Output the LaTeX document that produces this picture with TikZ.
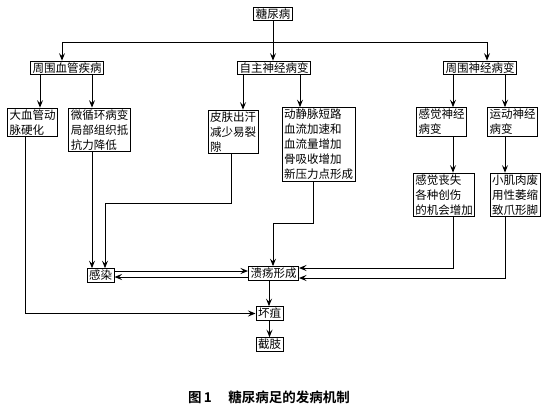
\documentclass[tikz,border=0pt]{standalone}
\usepackage{fontspec}
\setmainfont{Noto Sans CJK SC}[BoldFont={Noto Sans CJK SC Bold}]
\usetikzlibrary{arrows.meta}

\begin{document}
\begin{tikzpicture}[x=1pt, y=-1pt, line width=1pt, >={Stealth[length=7.5pt,width=6pt,inset=2.8pt]},
  every node/.style={draw, inner xsep=2pt, inner ysep=1.5pt, align=left, font=\fontsize{11.5pt}{15pt}\selectfont}]

\useasboundingbox (0,0) rectangle (554,409);

% Nodes

\node (dm) at (273,14) {糖尿病};

\node (pvd) at (67,68) {周围血管疾病};
\node (ans) at (274,68) {自主神经病变};
\node (pnd) at (480,68) {周围神经病变};

\node (big) at (32.5,122.5) {大血管动\\脉硬化};
\node (micro) at (99.5,130) {微循环病变\\局部组织抵\\抗力降低};
\node (skin) at (233,132) {皮肤出汗\\减少易裂\\隙};
\node (avs) at (318.5,144.5) {动静脉短路\\血流加速和\\血流量增加\\骨吸收增加\\新压力点形成};
\node (sens) at (441.5,122) {感觉神经\\病变};
\node (motor) at (512.5,122) {运动神经\\病变};

\node (loss) at (444,195) {感觉丧失\\各种创伤\\的机会增加};
\node (atrophy) at (515,195) {小肌肉废\\用性萎缩\\致爪形脚};

\node (inf) at (100.5,275.5) {感染};
\node (ulcer) at (273.5,273.5) {溃疡形成};
\node (gang) at (269.5,313.5) {坏疽};
\node (amp) at (269.5,344.5) {截肢};

% Edges
\coordinate (bus) at (273,43);
\draw (dm) -- (bus);
\draw[->] (bus) -| (pvd.north -| 62,0);
\draw[->] (bus) -- (ans.north -| bus);
\draw[->] (bus) -| (pnd.north -| 487,0);

\draw[->] (pvd.south -| 40,0) -- (big.north -| 40,0);
\draw[->] (pvd.south -| 92,0) -- (micro.north -| 92,0);
\draw[->] (ans.south -| 243,0) -- (skin.north -| 243,0);
\draw[->] (ans.south -| 300,0) -- (avs.north -| 300,0);
\draw[->] (pnd.south -| 453,0) -- (sens.north -| 453,0);
\draw[->] (pnd.south -| 505,0) -- (motor.north -| 505,0);
\draw[->] (sens.south -| 453,0) -- (loss.north -| 453,0);
\draw[->] (motor.south -| 505,0) -- (atrophy.north -| 505,0);

\draw[->] (big.south -| 25,0) |- (gang.west);
\draw[->] (micro.south -| 92,0) -- (inf.north -| 92,0);
\coordinate (skinbend) at (105,203);
\draw[->] (skin.south -| 231,0) |- (skinbend) -- (inf.north -| skinbend);

\draw[->] (inf.east |- 0,271) -- (ulcer.west |- 0,271);
\draw[->] (ulcer.west |- 0,277) -- (inf.east |- 0,277);

\coordinate (avsbend) at (273,223);
\draw[->] (avs.south -| 313,0) |- (avsbend) -- (ulcer.north -| avsbend);
\draw[->] (loss.south -| 453,0) |- (ulcer.east |- 0,268);
\draw[->] (atrophy.south -| 505,0) |- (ulcer.east |- 0,278);

\draw[->] (ulcer.south -| 269,0) -- (gang.north -| 269,0);
\draw[->] (gang) -- (amp);

% Labels
\node[draw=none, font=\fontsize{13.5pt}{15pt}\selectfont\bfseries] (cap) at (269,397) {图\,1\quad\ 糖尿病足的发病机制};

\end{tikzpicture}
\end{document}
